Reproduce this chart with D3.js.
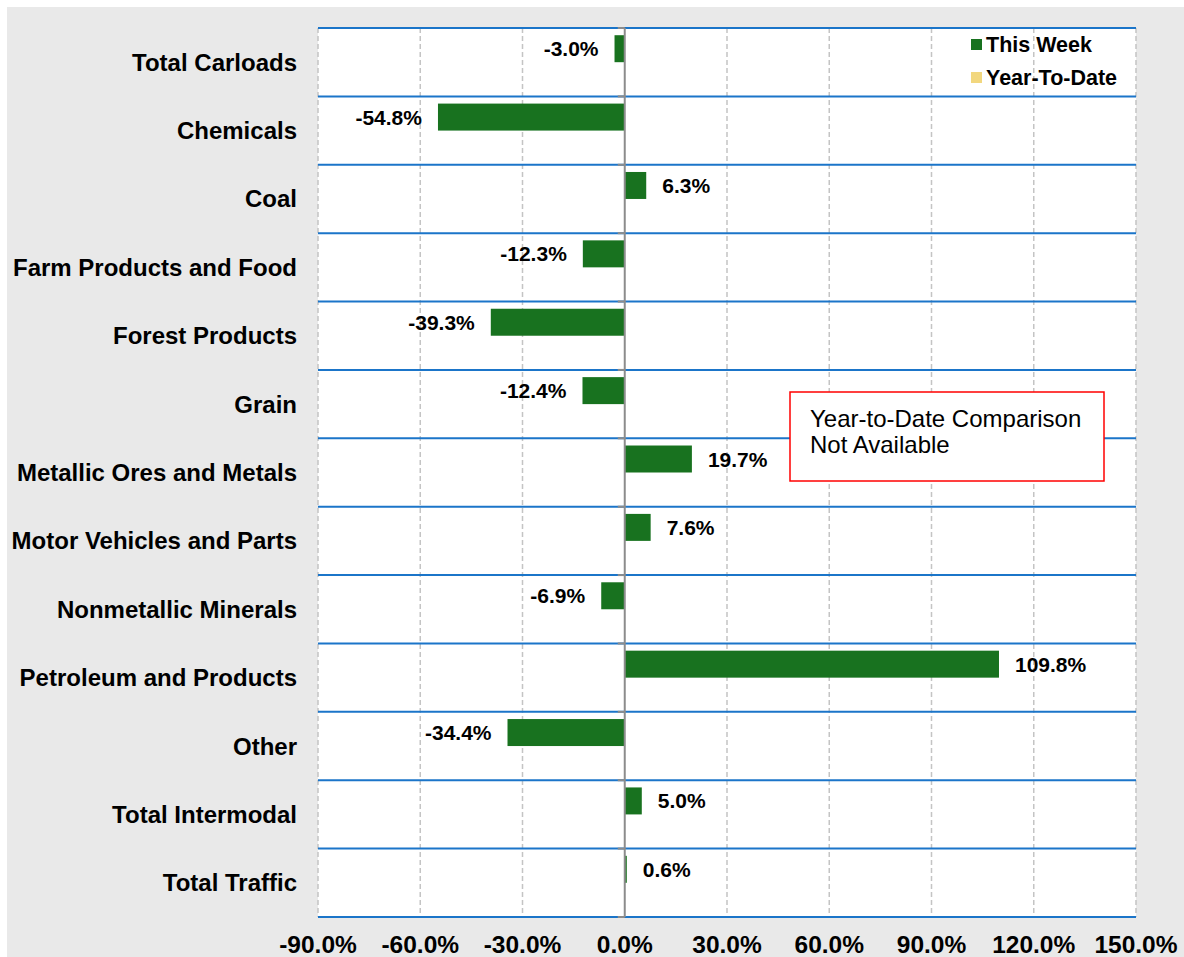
<!DOCTYPE html>
<html>
<head>
<meta charset="utf-8">
<script src="https://cdn.jsdelivr.net/npm/d3@7/dist/d3.min.js"></script>
<style>
  body { margin: 0; background: #fff; }
  text { font-family: "Liberation Sans", Arial, sans-serif; }
</style>
</head>
<body>
<div id="chart"></div>
<script>
var categories = ["Total Carloads", "Chemicals", "Coal", "Farm Products and Food",
  "Forest Products", "Grain", "Metallic Ores and Metals", "Motor Vehicles and Parts",
  "Nonmetallic Minerals", "Petroleum and Products", "Other", "Total Intermodal", "Total Traffic"];
var thisWeek = [-3.0, -54.8, 6.3, -12.3, -39.3, -12.4, 19.7, 7.6, -6.9, 109.8, -34.4, 5.0, 0.6];
var yearToDate = [null, null, null, null, null, null, null, null, null, null, null, null, null];
var seriesNames = ["This Week", "Year-To-Date"];
var xTicks = [-90, -60, -30, 0, 30, 60, 90, 120, 150];

var width = 1184, height = 957;
var plotLeft = 318, plotRight = 1136, plotTop = 28, plotBottom = 917;

var pct = function(v){ return v.toFixed(1) + "%"; };

var svg = d3.select("#chart").append("svg")
  .attr("width", width)
  .attr("height", height);

svg.append("rect")
  .attr("x", 7).attr("y", 7)
  .attr("width", width - 7).attr("height", height - 7)
  .attr("fill", "#e9e9e9");

svg.append("rect")
  .attr("x", plotLeft).attr("y", plotTop)
  .attr("width", plotRight - plotLeft).attr("height", plotBottom - plotTop)
  .attr("fill", "#fff");

var x = d3.scaleLinear().domain([-90, 150]).range([plotLeft, plotRight]);
var y = d3.scaleBand().domain(categories).range([plotTop, plotBottom]).padding(0);
var ySub = d3.scaleBand().domain(seriesNames).range([0, y.bandwidth()])
  .paddingInner(0).paddingOuter(0.267);

var colors = { "This Week": "#18721f", "Year-To-Date": "#f2d77e" };

// vertical dashed gridlines
svg.append("g").selectAll("line")
  .data(xTicks.filter(function(d){ return d !== 0; }))
  .enter().append("line")
  .attr("x1", function(d){ return x(d); })
  .attr("x2", function(d){ return x(d); })
  .attr("y1", plotTop).attr("y2", plotBottom)
  .attr("stroke", "#c4c4c4")
  .attr("stroke-width", 1.5)
  .attr("stroke-dasharray", "5,3");

// horizontal blue row lines
var boundaries = categories.map(function(c){ return y(c); }).concat([plotBottom]);
svg.append("g").selectAll("line")
  .data(boundaries)
  .enter().append("line")
  .attr("x1", plotLeft).attr("x2", plotRight)
  .attr("y1", function(d){ return d; })
  .attr("y2", function(d){ return d; })
  .attr("stroke", "#1b75c9")
  .attr("stroke-width", 2);

// bars
var rows = categories.map(function(c, i){
  return { cat: c, week: thisWeek[i], ytd: yearToDate[i] };
});

svg.append("g").selectAll("rect")
  .data(rows)
  .enter().append("rect")
  .attr("x", function(d){ return x(Math.min(0, d.week)); })
  .attr("y", function(d){ return y(d.cat) + ySub("This Week"); })
  .attr("width", function(d){ return Math.abs(x(d.week) - x(0)); })
  .attr("height", ySub.bandwidth())
  .attr("fill", colors["This Week"]);

// zero axis with ticks
svg.append("line")
  .attr("x1", x(0)).attr("x2", x(0))
  .attr("y1", plotTop).attr("y2", plotBottom)
  .attr("stroke", "#8c8c8c")
  .attr("stroke-width", 2);

svg.append("g").selectAll("line")
  .data(boundaries)
  .enter().append("line")
  .attr("x1", x(0) - 7).attr("x2", x(0))
  .attr("y1", function(d){ return d; })
  .attr("y2", function(d){ return d; })
  .attr("stroke", "#8c8c8c")
  .attr("stroke-width", 2);

// value labels
svg.append("g").selectAll("text")
  .data(rows)
  .enter().append("text")
  .attr("x", function(d){ return d.week < 0 ? x(d.week) - 16 : x(d.week) + 16; })
  .attr("y", function(d){ return y(d.cat) + ySub("This Week") + ySub.bandwidth() / 2 + 7.5; })
  .attr("text-anchor", function(d){ return d.week < 0 ? "end" : "start"; })
  .attr("font-size", 21)
  .attr("font-weight", "bold")
  .text(function(d){ return pct(d.week); });

// category labels
svg.append("g").selectAll("text")
  .data(categories)
  .enter().append("text")
  .attr("x", 297)
  .attr("y", function(d){ return y(d) + y.bandwidth() / 2 + 8.5; })
  .attr("text-anchor", "end")
  .attr("font-size", 24)
  .attr("font-weight", "bold")
  .text(function(d){ return d; });

// x tick labels
svg.append("g").selectAll("text")
  .data(xTicks)
  .enter().append("text")
  .attr("x", function(d){ return x(d); })
  .attr("y", 953)
  .attr("text-anchor", "middle")
  .attr("font-size", 24.5)
  .attr("font-weight", "bold")
  .text(function(d){ return pct(d); });

// legend
var legend = svg.append("g").attr("transform", "translate(971,39)");
seriesNames.forEach(function(s, i){
  legend.append("rect")
    .attr("x", 0).attr("y", i * 33)
    .attr("width", 11).attr("height", 11)
    .attr("fill", colors[s]);
  legend.append("text")
    .attr("x", 15).attr("y", i * 33 + 13)
    .attr("font-size", 21.5)
    .attr("font-weight", "bold")
    .text(s);
});

// annotation box
svg.append("rect")
  .attr("x", 790).attr("y", 392)
  .attr("width", 314).attr("height", 89)
  .attr("fill", "#fff")
  .attr("stroke", "#ff0000")
  .attr("stroke-width", 1.5);

svg.append("text")
  .attr("x", 810).attr("y", 427)
  .attr("font-size", 24)
  .text("Year-to-Date Comparison");
svg.append("text")
  .attr("x", 810).attr("y", 453)
  .attr("font-size", 24)
  .text("Not Available");
</script>
</body>
</html>
